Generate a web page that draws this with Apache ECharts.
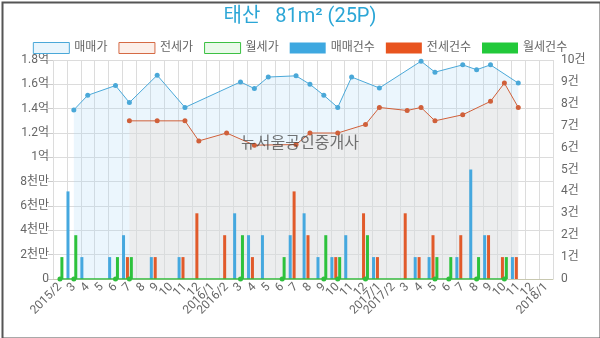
<!DOCTYPE html>
<html>
<head>
<meta charset="utf-8">
<script src="https://cdn.jsdelivr.net/npm/echarts@6/dist/echarts.min.js"></script>
<style>
html,body{margin:0;padding:0;background:#fff;}
#c{width:600px;height:338px;}
</style>
</head>
<body>
<div id="c"></div>
<script>
const categories = ['2015/2','3','4','5','6','7','8','9','10','11','12','2016/1','2016/2','3','4','5','6','7','8','9','10','11','12','2017/1','2017/2','3','4','5','6','7','8','9','10','11','12','2018/1'];
// prices in 만원
const salePrice   = [null,13900,15100,null,15900,14500,null,16750,null,14100,null,null,null,16200,15650,16600,null,16700,16000,15100,14100,16600,null,15700,null,null,17900,17000,null,17600,17200,17600,null,16100,null,null];
const jeonsePrice = [null,null,null,null,null,13000,null,13000,null,13000,11350,null,12000,null,11000,null,null,11050,12000,null,12000,null,12700,14100,null,13850,14100,13000,null,13500,null,14600,16100,14100,null,null];
const rentPrice   = [0,0,null,null,0,0,null,null,null,null,null,null,null,0,null,null,0,null,null,0,0,null,0,null,null,null,null,0,0,null,0,null,0,null,null,null];
// counts (건)
const saleCount   = [null,4,1,null,1,2,null,1,null,1,null,null,null,3,2,2,null,2,3,1,1,2,null,1,null,null,1,1,null,1,5,2,null,1,null,null];
const jeonseCount = [null,null,null,null,null,1,null,1,null,1,3,null,2,null,1,null,null,4,2,null,1,null,3,1,null,3,1,2,null,2,null,2,1,1,null,null];
const rentCount   = [1,2,null,null,1,1,null,null,null,null,null,null,null,2,null,null,1,null,null,2,1,null,2,null,null,null,null,1,1,null,1,null,1,null,null,null];
const emptySlot   = [];

const FONT = "Roboto, 'Noto Sans CJK KR', sans-serif";
const chart = echarts.init(document.getElementById('c'));
chart.setOption({
  animation: false,
  textStyle: {fontFamily: FONT},
  title: {
    text: '태산   81m² (25P)',
    left: 'center', top: 2,
    textStyle: {color: '#2ba6d6', fontSize: 20, fontWeight: 'normal', fontFamily: FONT}
  },
  legend: {
    top: 37, left: 'center',
    itemWidth: 36, itemHeight: 11, itemGap: 11,
    icon: 'rect',
    textStyle: {color: '#666', fontSize: 12, fontFamily: FONT},
    data: [
      {name: '매매가', itemStyle: {color: '#e9f5fc', borderColor: '#4aa8d8', borderWidth: 1}},
      {name: '전세가', itemStyle: {color: '#fcefe9', borderColor: '#d56a44', borderWidth: 1}},
      {name: '월세가', itemStyle: {color: '#e9f9e9', borderColor: '#3cc043', borderWidth: 1}},
      {name: '매매건수', itemStyle: {color: '#3ea8e0'}},
      {name: '전세건수', itemStyle: {color: '#e8541f'}},
      {name: '월세건수', itemStyle: {color: '#22c93a'}}
    ]
  },
  grid: {left: 53, right: 47, top: 60, bottom: 59},
  xAxis: {
    type: 'category', data: categories, boundaryGap: true,
    axisLine: {lineStyle: {color: '#c8c8b0'}},
    axisTick: {show: false},
    splitLine: {show: true, interval: 0, lineStyle: {color: '#dcdcdc'}},
    axisLabel: {interval: 0, rotate: 45, color: '#666', fontSize: 12, margin: 6}
  },
  yAxis: [
    {
      type: 'value', min: 0, max: 18000, interval: 2000,
      axisLine: {show: false},
      axisTick: {show: true, length: 5, lineStyle: {color: '#ccc'}},
      splitLine: {lineStyle: {color: '#dcdcdc'}},
      axisLabel: {color: '#666', fontSize: 12, margin: 4,
        formatter: v => v === 0 ? '0' : (v < 10000 ? (v/1000) + '천만' : (v/10000) + '억')}
    },
    {
      type: 'value', min: 0, max: 10, interval: 1,
      axisLine: {show: false}, axisTick: {show: false}, splitLine: {show: false},
      axisLabel: {color: '#666', fontSize: 12, margin: 8,
        formatter: v => v === 0 ? '0' : v + '건'}
    }
  ],
  graphic: [
    {type: 'text', left: 'center', top: 134, z: 100,
     style: {text: '뉴서울공인중개사', font: "16px 'Noto Sans CJK KR'", fill: 'rgba(70,70,70,0.75)'}},
    {type: 'rect', left: 0, top: 0, z: 100, silent: true,
     shape: {width: 598, height: 336}, style: {fill: 'none', stroke: '#555', lineWidth: 2}}
  ],
  series: [
    {name: '매매가', type: 'line', data: salePrice, connectNulls: true, yAxisIndex: 0,
     symbol: 'circle', symbolSize: 5, z: 2,
     itemStyle: {color: '#4aa8d8'}, lineStyle: {color: '#4aa8d8', width: 1},
     areaStyle: {color: 'rgba(174,220,245,0.35)'}},
    {name: '전세가', type: 'line', data: jeonsePrice, connectNulls: true, yAxisIndex: 0,
     symbol: 'circle', symbolSize: 5, z: 3,
     itemStyle: {color: '#d0603a'}, lineStyle: {color: '#d0603a', width: 1},
     areaStyle: {color: 'rgba(237,221,213,0.5)'}},
    {name: '월세가', type: 'line', data: rentPrice, connectNulls: true, yAxisIndex: 0,
     symbol: 'circle', symbolSize: 5, z: 6,
     itemStyle: {color: '#2fbf3c'}, lineStyle: {color: '#2fbf3c', width: 1.5}},
    {name: '매매건수', type: 'bar', data: saleCount, yAxisIndex: 1, barWidth: 3, barGap: '30%', z: 4,
     itemStyle: {color: '#45a8df'}},
    {name: '전세건수', type: 'bar', data: jeonseCount, yAxisIndex: 1, barWidth: 3, barGap: '30%', z: 4,
     itemStyle: {color: '#e15a2a'}},
    {name: '월세건수', type: 'bar', data: rentCount, yAxisIndex: 1, barWidth: 3, barGap: '30%', z: 4,
     itemStyle: {color: '#2dc23c'}},
    {name: '_slot', type: 'bar', data: emptySlot, yAxisIndex: 1, barWidth: 3, barGap: '30%'}
  ]
});
</script>
</body>
</html>
